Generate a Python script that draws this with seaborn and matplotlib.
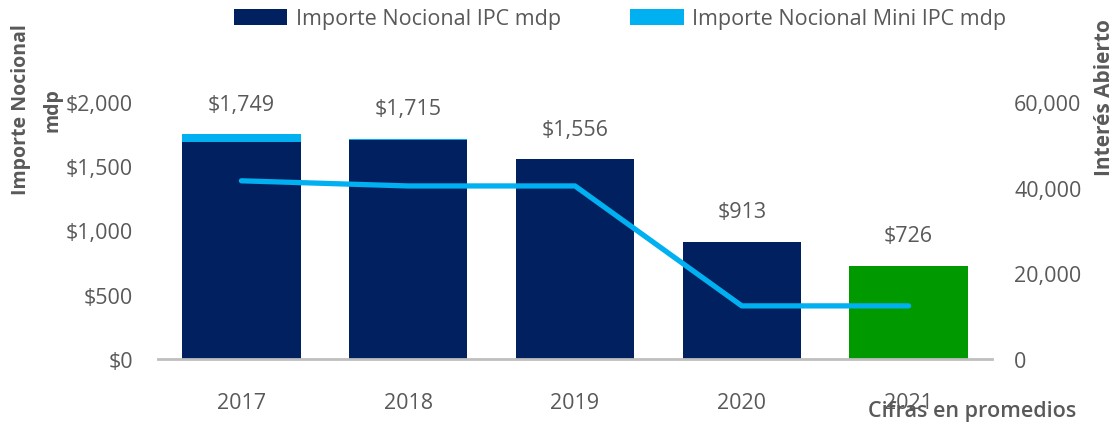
import numpy as np
import pandas as pd
import matplotlib.pyplot as plt
import seaborn as sns
from matplotlib.patches import Patch

### DATA ###
years = ['2017', '2018', '2019', '2020', '2021']
ipc_mdp = [1690, 1703, 1556, 913, 726]
mini_ipc_mdp = [59, 12, 0, 0, 0]
total_labels = ['$1,749', '$1,715', '$1,556', '$913', '$726']
interes_abierto = [41600, 40400, 40400, 12400, 12400]

### STYLE ###
sns.set_style('white')
plt.rcParams['font.family'] = ['Open Sans', 'DejaVu Sans']
gray = '#595959'
navy = '#002060'
light_blue = '#00B0F0'
green = '#009900'
fs = 15.5

df = pd.DataFrame({'Año': years, 'IPC': ipc_mdp, 'Mini': mini_ipc_mdp})
df['Total'] = df['IPC'] + df['Mini']

fig = plt.figure(figsize=(11.14, 4.27), dpi=100)
ax1 = fig.add_axes([158 / 1114, 1 - 360 / 427, (992 - 158) / 1114, (360 - 103) / 427])

# stacked: total in light blue, IPC drawn over it
sns.barplot(data=df, x='Año', y='Total', color=light_blue, width=0.71, ax=ax1,
            saturation=1, linewidth=0, edgecolor='none')
bar_colors = [navy, navy, navy, navy, green]
sns.barplot(data=df, x='Año', y='IPC', hue='Año', palette=bar_colors, width=0.71, ax=ax1,
            saturation=1, legend=False, linewidth=0, edgecolor='none')

for i, lab in enumerate(total_labels):
    ax1.annotate(lab, (i, df['Total'][i]), xytext=(0, 21.5), textcoords='offset points',
                 ha='center', va='center', fontsize=fs, color=gray, clip_on=False)

ax1.set_ylim(0, 2000)
ax1.set_xlim(-0.5, 4.5)
ax1.set_yticks(np.arange(0, 2001, 500))
ax1.set_yticklabels([f'${v:,}' for v in range(0, 2001, 500)])
ax1.tick_params(axis='y', length=0, pad=18, labelsize=fs, labelcolor=gray)
ax1.tick_params(axis='x', length=0, pad=24, labelsize=fs, labelcolor=gray)
ax1.set_xlabel('')
ax1.set_ylabel('')
for s in ['top', 'right', 'left']:
    ax1.spines[s].set_visible(False)
ax1.spines['bottom'].set_color('#BFBFBF')
ax1.spines['bottom'].set_linewidth(2)

# open interest line, right axis
ax2 = ax1.twinx()
sns.lineplot(x=np.arange(len(years)), y=interes_abierto, color=light_blue, linewidth=3.8, ax=ax2)
ax2.set_ylim(0, 60000)
ax2.set_yticks(np.arange(0, 60001, 20000))
ax2.set_yticklabels([f'{v:,}' for v in range(0, 60001, 20000)])
ax2.tick_params(axis='y', length=0, pad=16, labelsize=fs, labelcolor=gray)
for s in ['top', 'right', 'left', 'bottom']:
    ax2.spines[s].set_visible(False)

# axis titles
fig.text(37 / 1114, 1 - 110 / 427, 'Importe Nocional\nmdp', rotation=90, ha='center', va='center',
         multialignment='center', fontsize=14, fontweight='bold', color=gray, linespacing=1.75)
fig.text(1104 / 1114, 1 - 98 / 427, 'Interés Abierto', rotation=90, ha='center', va='center',
         fontsize=15, fontweight='bold', color=gray)
fig.text(972 / 1114, 1 - 412 / 427, 'Cifras en promedios', ha='center', va='center',
         fontsize=15.5, fontweight='semibold', color=gray)

# legend
handles = [Patch(facecolor=navy, edgecolor='none'), Patch(facecolor=light_blue, edgecolor='none')]
fig.legend(handles, ['Importe Nocional IPC mdp', 'Importe Nocional Mini IPC mdp'],
           loc='center', bbox_to_anchor=(620 / 1114, 1 - 20 / 427), ncol=2, frameon=False,
           fontsize=fs, labelcolor=gray, handlelength=2.5, handleheight=0.8,
           columnspacing=3.2, handletextpad=0.4)

fig.savefig('out.png', dpi=100)
